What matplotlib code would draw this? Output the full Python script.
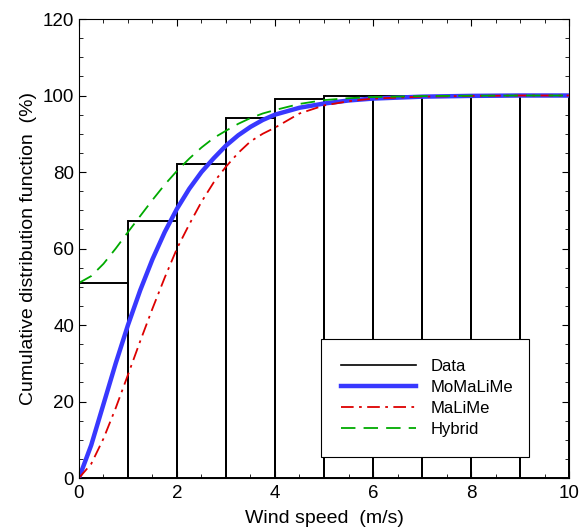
import numpy as np
import matplotlib.pyplot as plt
from matplotlib.ticker import MultipleLocator
from matplotlib.lines import Line2D

plt.rcParams['font.family'] = ['Liberation Sans', 'DejaVu Sans']

# 관측 누적 분포 (구간별 막대)
bin_left = [0, 1, 2, 3, 4, 5, 6, 7, 8, 9]
data_cdf = [51.1, 67.3, 82.1, 94.2, 99.0, 100, 100, 100, 100, 100]

# 모델 곡선
x_fit = [0, 0.25, 0.5, 0.75, 1, 1.25, 1.5, 1.75, 2, 2.25, 2.5, 2.75, 3, 3.25,
         3.5, 3.75, 4, 4.5, 5, 5.5, 6, 7, 8, 9, 10]
momalime = [0, 8.6, 19.3, 30, 40, 49.1, 57.2, 64.3, 70.4, 75.6, 80, 83.6, 86.9,
            89.6, 91.8, 93.6, 95.0, 96.8, 97.9, 98.7, 99.2, 99.7, 99.9, 100, 100]
malime = [0, 3.7, 10.3, 18.3, 27.0, 35.8, 44.3, 52.4, 60.0, 66.3, 72.2, 77.3, 81.4,
          85.0, 88.0, 90.0, 91.6, 95.3, 97.4, 98.5, 99.2, 99.7, 99.9, 100, 100]
hybrid = [51, 52.8, 56.0, 60.0, 64.3, 68.5, 72.7, 76.7, 80.3, 83.5, 86.4, 88.9, 90.8,
          92.6, 94.1, 95.3, 96.2, 97.8, 98.8, 99.3, 99.6, 99.85, 99.95, 100, 100]

blue = '#3838ff'
red = '#dd0000'
green = '#00aa00'
red_ls = (0, (7, 3, 1.5, 3))
green_ls = (0, (8, 4.5))

fig = plt.figure(figsize=(5.82, 5.31), dpi=100)
ax = fig.add_axes([0.1357, 0.0998, 0.842, 0.8644])

ax.bar(bin_left, data_cdf, width=1, align='edge', fill=False,
       edgecolor='black', linewidth=1.4, label='Data')
ax.plot(x_fit, momalime, color=blue, linewidth=3.2, label='MoMaLiMe')
ax.plot(x_fit, malime, color=red, linewidth=1.3, linestyle=red_ls, label='MaLiMe')
ax.plot(x_fit, hybrid, color=green, linewidth=1.3, linestyle=green_ls, label='Hybrid')

ax.set_xlim(0, 10)
ax.set_ylim(0, 120)
ax.xaxis.set_major_locator(MultipleLocator(2))
ax.xaxis.set_minor_locator(MultipleLocator(0.5))
ax.yaxis.set_major_locator(MultipleLocator(20))
ax.yaxis.set_minor_locator(MultipleLocator(5))
ax.tick_params(which='both', direction='in', top=True, right=True, labelsize=13.5)
ax.tick_params(which='major', length=5)
ax.tick_params(which='minor', length=3)
ax.tick_params(axis='x', pad=5)

ax.set_xlabel('Wind speed  (m/s)', fontsize=14, labelpad=6)
ax.set_ylabel('Cumulative distribution function  (%)', fontsize=14)

# 범례 (Data 핸들은 선으로)
handles = [Line2D([], [], color='black', linewidth=1.2),
           Line2D([], [], color=blue, linewidth=3.2),
           Line2D([], [], color=red, linewidth=1.3, linestyle=red_ls),
           Line2D([], [], color=green, linewidth=1.3, linestyle=green_ls)]
leg = ax.legend(handles, ['Data', 'MoMaLiMe', 'MaLiMe', 'Hybrid'],
                loc='lower left', bbox_to_anchor=(0.494, 0.046, 0.424, 0.266),
                mode='expand', borderaxespad=0, fontsize=12, fancybox=False,
                framealpha=1, edgecolor='black', handlelength=4.5,
                labelspacing=0.36, borderpad=1.2, handletextpad=0.9)
leg.get_frame().set_linewidth(0.8)

fig.savefig('out.png', dpi=100)
